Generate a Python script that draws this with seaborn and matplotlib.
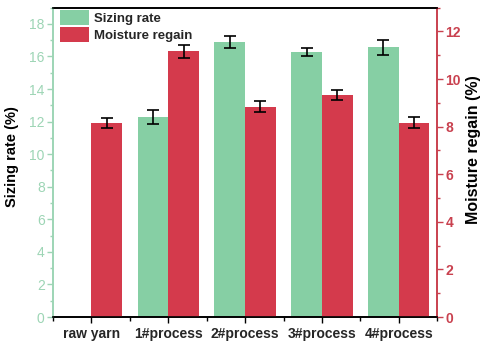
import numpy as np
import pandas as pd
import matplotlib
matplotlib.use("Agg")
import matplotlib.pyplot as plt
from matplotlib.patches import Patch
from matplotlib.ticker import MultipleLocator, FixedLocator
import seaborn as sns

# Samples and measured values
samples = ["raw yarn", "1#process", "2#process", "3#process", "4#process"]
sizing_samples = ["1#process", "2#process", "3#process", "4#process"]
sizing_rate = [12.3, 16.9, 16.27, 16.57]
sizing_err = [0.42, 0.35, 0.27, 0.45]
moisture_regain = [8.16, 11.17, 8.84, 9.32, 8.17]
moisture_err = [0.2, 0.28, 0.24, 0.22, 0.24]

series = ["Sizing rate", "Moisture regain"]
green = "#86cfa4"
red = "#d43a4c"
green_txt = "#9dd5b5"
red_txt = "#c9414f"

sns.set_theme(style="white")
plt.rcParams["font.family"] = ["Liberation Sans", "DejaVu Sans"]

size_df = pd.DataFrame({"sample": sizing_samples, "value": sizing_rate,
                        "series": series[0]})
moist_df = pd.DataFrame({"sample": samples, "value": moisture_regain,
                         "series": series[1]})
palette = {series[0]: green, series[1]: red}

fig = plt.figure(figsize=(4.82, 3.43), dpi=100)
ax1 = fig.add_axes([0.110, 0.0758, 0.797, 0.902])
ax2 = ax1.twinx()

bar_kw = dict(x="sample", y="value", hue="series", hue_order=series,
              order=samples, palette=palette, dodge=True, width=0.8,
              gap=0, linewidth=0, errorbar=None, legend=False, saturation=1)
sns.barplot(data=size_df, ax=ax1, **bar_kw)
sns.barplot(data=moist_df, ax=ax2, **bar_kw)

# Error bars placed on the bar centres
def add_errors(ax, vals, errs):
    bars = [p for c in ax.containers for p in c if p.get_height() > 0]
    xs = [p.get_x() + p.get_width() / 2 for p in bars]
    ax.errorbar(xs, vals, yerr=errs, fmt="none", ecolor="black",
                elinewidth=1.2, capsize=4, capthick=1.2, zorder=5)

add_errors(ax1, sizing_rate, sizing_err)
add_errors(ax2, moisture_regain, moisture_err)

ax1.set_xlim(-0.5, 4.5)
ax1.set_ylim(0, 19)
ax2.set_ylim(0, 13)

ax1.yaxis.set_major_locator(MultipleLocator(2))
ax1.yaxis.set_minor_locator(MultipleLocator(1))
ax2.yaxis.set_major_locator(MultipleLocator(2))
ax2.yaxis.set_minor_locator(MultipleLocator(1))
ax1.xaxis.set_minor_locator(FixedLocator(np.arange(-0.5, 5.0, 1.0)))

ax1.tick_params(axis="y", which="both", direction="out", left=True,
                colors=green_txt, labelsize=10, width=1, pad=2)
ax1.tick_params(axis="y", which="major", length=4)
ax1.tick_params(axis="y", which="minor", length=2.5)
ax2.tick_params(axis="y", which="both", direction="out", right=True,
                colors=red_txt, labelsize=10, width=1, pad=2)
ax2.tick_params(axis="y", which="major", length=4)
ax2.tick_params(axis="y", which="minor", length=2.5)
for lbl in ax2.get_yticklabels():
    lbl.set_fontweight("bold")
ax1.tick_params(axis="x", which="both", direction="out", bottom=True,
                color="black", width=1, labelsize=10, pad=3)
ax1.tick_params(axis="x", which="major", length=4)
ax1.tick_params(axis="x", which="minor", length=3)
for lbl in ax1.get_xticklabels():
    lbl.set_fontweight("bold")

for ax in (ax1, ax2):
    for s in ax.spines.values():
        s.set_linewidth(1.2)
    ax.spines["top"].set_color("black")
    ax.spines["bottom"].set_color("black")
    ax.spines["left"].set_color(green_txt)
    ax.spines["right"].set_color(red_txt)

ax1.set_xlabel("")
ax1.set_ylabel("Sizing rate (%)", fontsize=10.5, fontweight="bold",
               color="black")
ax1.yaxis.label.set(va="center", ha="center", rotation_mode="anchor")
ax1.yaxis.set_label_coords(-0.107, 0.52)
ax2.set_ylabel("Moisture regain (%)", fontsize=11.5, fontweight="bold",
               color="black", rotation=90)
ax2.yaxis.label.set(va="center", ha="center", rotation_mode="anchor")
ax2.yaxis.set_label_coords(1.094, 0.54)

handles = [Patch(facecolor=green, edgecolor="none"),
           Patch(facecolor=red, edgecolor="none")]
leg = ax2.legend(handles, series, loc="upper left", frameon=False,
                 prop={"weight": "bold", "size": 9.5},
                 handlelength=2.2, handleheight=1.35, labelspacing=0.15,
                 handletextpad=0.4, borderaxespad=0.0, borderpad=0.3,
                 bbox_to_anchor=(0.008, 1.004))

fig.savefig("out.png", dpi=100)
